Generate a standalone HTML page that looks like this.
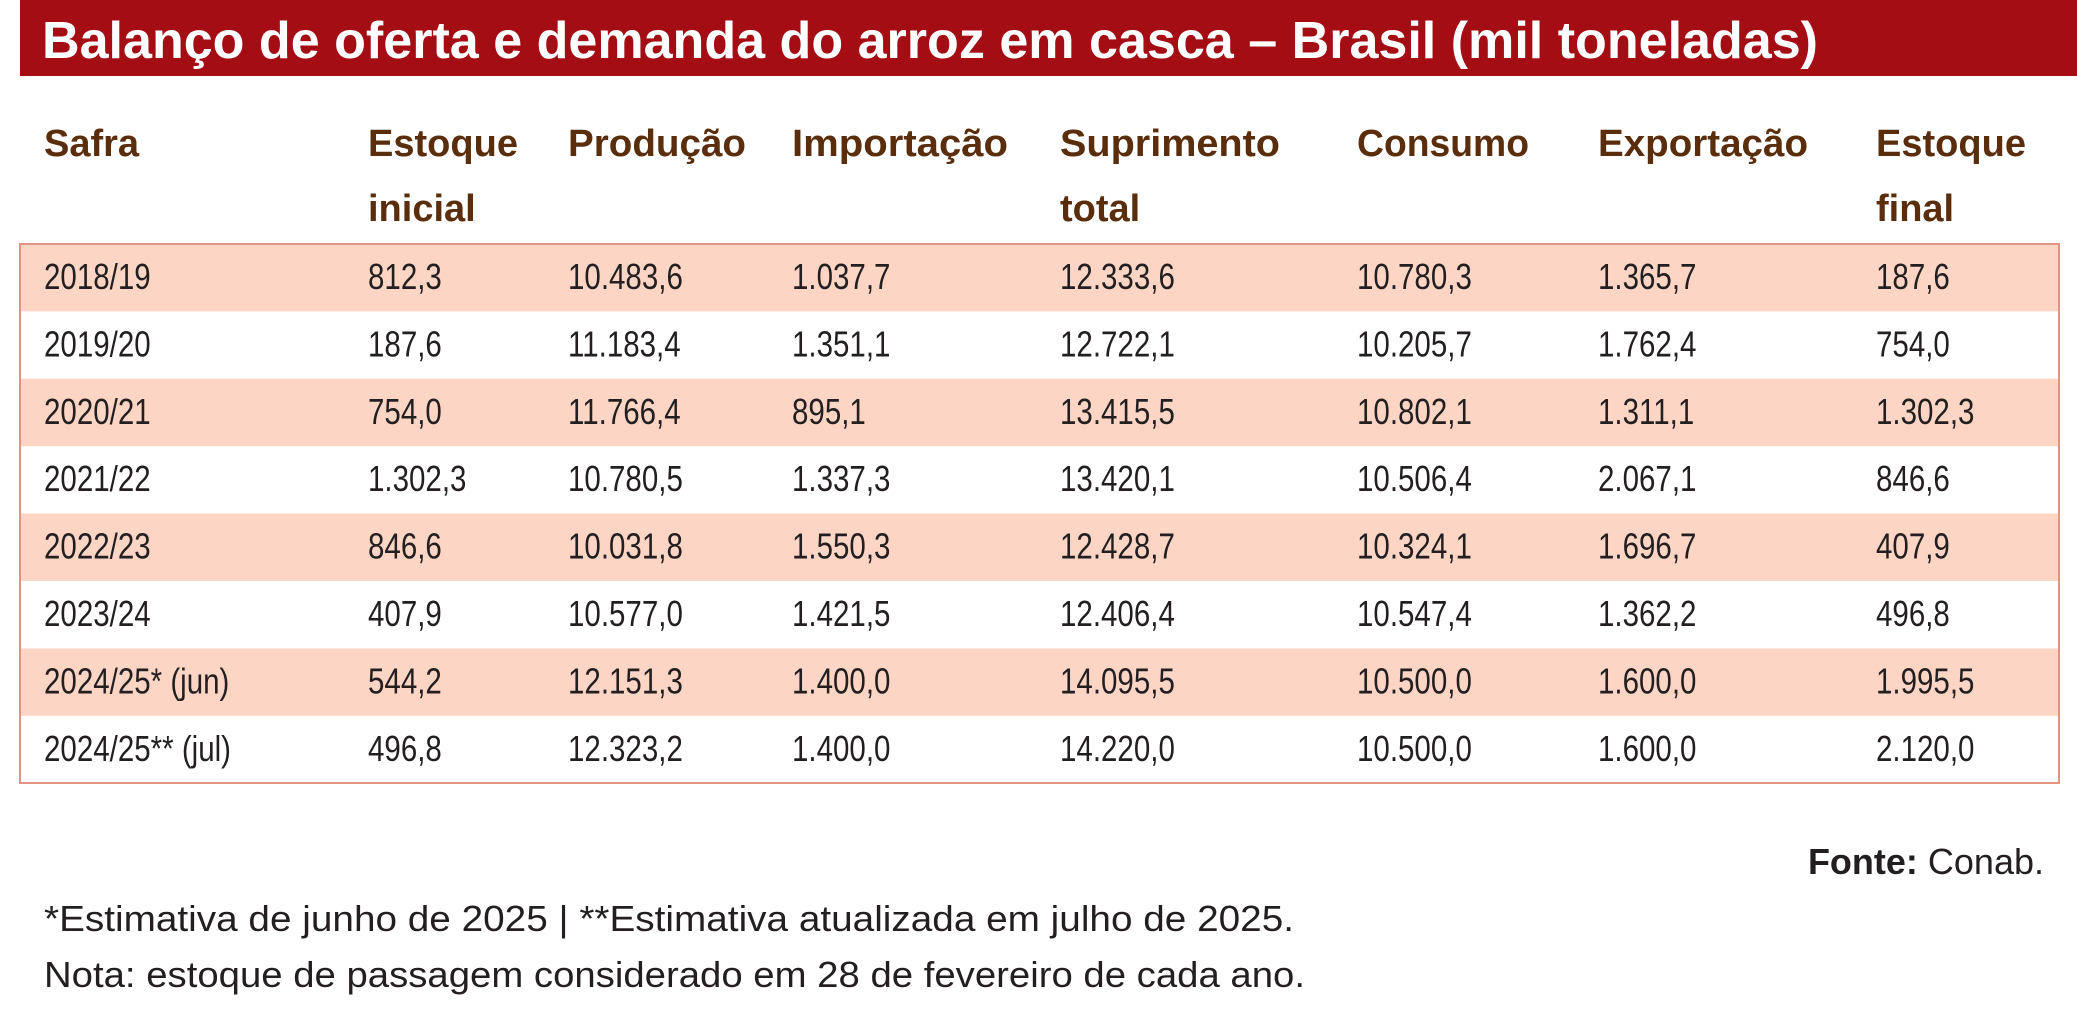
<!DOCTYPE html>
<html><head><meta charset="utf-8"><style>
body{margin:0;background:#fff;width:2077px;height:1021px;overflow:hidden}
svg{display:block}
.h{font-family:"Liberation Sans",sans-serif;font-weight:bold;font-size:38px;fill:#5a2d0c}
.d{font-family:"Liberation Sans",sans-serif;font-size:36px;fill:#231f20}
</style></head><body>
<svg width="2077" height="1021" xmlns="http://www.w3.org/2000/svg">
<rect x="20" y="0" width="2057" height="76" fill="#a50d14"/>
<text x="42" y="58" fill="#fff" font-family="Liberation Sans, sans-serif" font-weight="bold" font-size="52" textLength="1776" lengthAdjust="spacingAndGlyphs">Balanço de oferta e demanda do arroz em casca – Brasil (mil toneladas)</text>
<g class="h">
<text x="44" y="156">Safra</text>
<text x="368" y="156" textLength="150" lengthAdjust="spacingAndGlyphs">Estoque</text>
<text x="368" y="221">inicial</text>
<text x="568" y="156" textLength="178" lengthAdjust="spacingAndGlyphs">Produção</text>
<text x="792" y="156" textLength="216" lengthAdjust="spacingAndGlyphs">Importação</text>
<text x="1060" y="156" textLength="220" lengthAdjust="spacingAndGlyphs">Suprimento</text>
<text x="1060" y="221">total</text>
<text x="1357" y="156" textLength="172" lengthAdjust="spacingAndGlyphs">Consumo</text>
<text x="1598" y="156" textLength="210" lengthAdjust="spacingAndGlyphs">Exportação</text>
<text x="1876" y="156" textLength="150" lengthAdjust="spacingAndGlyphs">Estoque</text>
<text x="1876" y="221">final</text>
</g>
<g fill="#fcd5c4">
<rect x="20" y="244" width="2039" height="67.4"/>
<rect x="20" y="378.8" width="2039" height="67.4"/>
<rect x="20" y="513.6" width="2039" height="67.4"/>
<rect x="20" y="648.4" width="2039" height="67.4"/>
</g>
<rect x="20" y="244" width="2039" height="539" fill="none" stroke="#e09483" stroke-width="2"/>
<g class="d" id="rows"></g>
<g class="d">
<text x="2044" y="874" text-anchor="end"><tspan font-weight="bold">Fonte:</tspan> Conab.</text>
<text x="44" y="931" textLength="1250" lengthAdjust="spacingAndGlyphs">*Estimativa de junho de 2025 | **Estimativa atualizada em julho de 2025.</text>
<text x="44" y="987" textLength="1261" lengthAdjust="spacingAndGlyphs">Nota: estoque de passagem considerado em 28 de fevereiro de cada ano.</text>
</g>
</svg>
<script>
var data=[
["2018/19","812,3","10.483,6","1.037,7","12.333,6","10.780,3","1.365,7","187,6"],
["2019/20","187,6","11.183,4","1.351,1","12.722,1","10.205,7","1.762,4","754,0"],
["2020/21","754,0","11.766,4","895,1","13.415,5","10.802,1","1.311,1","1.302,3"],
["2021/22","1.302,3","10.780,5","1.337,3","13.420,1","10.506,4","2.067,1","846,6"],
["2022/23","846,6","10.031,8","1.550,3","12.428,7","10.324,1","1.696,7","407,9"],
["2023/24","407,9","10.577,0","1.421,5","12.406,4","10.547,4","1.362,2","496,8"],
["2024/25* (jun)","544,2","12.151,3","1.400,0","14.095,5","10.500,0","1.600,0","1.995,5"],
["2024/25** (jul)","496,8","12.323,2","1.400,0","14.220,0","10.500,0","1.600,0","2.120,0"]];
var xs=[44,368,568,792,1060,1357,1598,1876];
var g=document.getElementById('rows'),ns="http://www.w3.org/2000/svg";
data.forEach(function(r,i){r.forEach(function(t,j){
var e=document.createElementNS(ns,'text');
e.setAttribute('transform','translate('+xs[j]+','+(244+i*67.4+45)+') scale(0.82,1)');
e.textContent=t;g.appendChild(e);});});
</script>
</body></html>
